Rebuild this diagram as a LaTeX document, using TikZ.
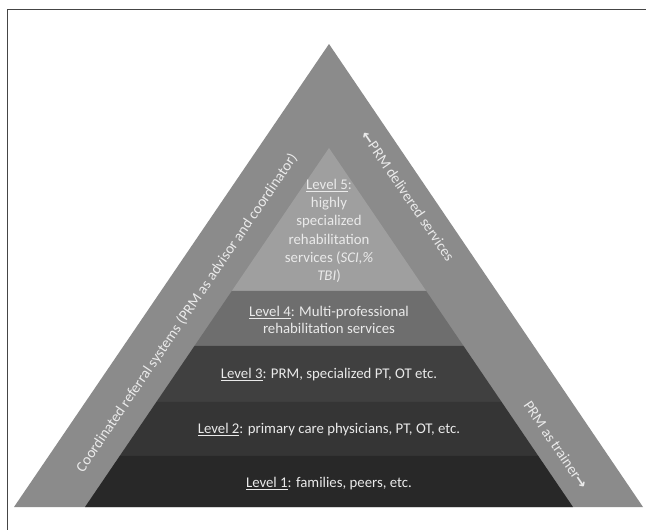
\documentclass[tikz,border=0pt]{standalone}
\usepackage{fontspec}
\setmainfont{Carlito}
\newfontfamily\symfont{DejaVu Sans}
\usetikzlibrary{calc}
\definecolor{bandc}{HTML}{8B8B8B}
\definecolor{lvfive}{HTML}{9F9F9F}
\definecolor{lvfour}{HTML}{6E6E6E}
\definecolor{lvthree}{HTML}{404040}
\definecolor{lvtwo}{HTML}{353535}
\definecolor{lvone}{HTML}{282828}
\definecolor{txtc}{HTML}{EAEAEA}
\definecolor{framec}{HTML}{454545}
\newcommand\lvlu[1]{\underline{#1}}
\begin{document}
\begin{tikzpicture}[x=1pt,y=-1pt,
  lbl/.style={text=txtc, font=\fontsize{14.8}{16}\selectfont, align=center, inner sep=0pt},
  sidelbl/.style={text=txtc, font=\fontsize{15}{16}\selectfont, inner sep=0pt}]
\useasboundingbox (0,0) rectangle (646,530);
\fill[white] (0,0) rectangle (646,530);
\draw[framec, line width=1.3pt] (7.5,530) -- (7.5,9.3) -- (646,9.3);
% outer triangle
\coordinate (A) at (329,44);
\coordinate (BL) at (14,507);
\coordinate (BR) at (643,507);
\fill[bandc] (A) -- (BL) -- (BR) -- cycle;
% inner pyramid
\coordinate (a) at (329,148);
\coordinate (bl) at (85,507);
\coordinate (br) at (573,507);
\coordinate (l54) at ($(a)!0.3983!(bl)$); \coordinate (r54) at ($(a)!0.3983!(br)$);
\coordinate (l43) at ($(a)!0.5515!(bl)$); \coordinate (r43) at ($(a)!0.5515!(br)$);
\coordinate (l32) at ($(a)!0.7075!(bl)$); \coordinate (r32) at ($(a)!0.7075!(br)$);
\coordinate (l21) at ($(a)!0.8579!(bl)$); \coordinate (r21) at ($(a)!0.8579!(br)$);
\fill[lvfive] (a) -- (l54) -- (r54) -- cycle;
\fill[lvfour] (l54) -- (l43) -- (r43) -- (r54) -- cycle;
\fill[lvthree] (l43) -- (l32) -- (r32) -- (r43) -- cycle;
\fill[lvtwo] (l32) -- (l21) -- (r21) -- (r32) -- cycle;
\fill[lvone] (l21) -- (bl) -- (br) -- (r21) -- cycle;
% level texts
\node[lbl, font=\fontsize{14.8}{18.3}\selectfont] (t5) at (329,231) {\lvlu{Level 5}:\\highly\\specialized\\rehabilitation\\services (\textit{SCI,\%}\\\textit{TBI})};
\node[lbl, font=\fontsize{14.8}{16.5}\selectfont] (t4) at (329,320) {\lvlu{Level 4}: Multi-professional\\rehabilitation services};
\node[lbl] (t3) at (329,375) {\lvlu{Level 3}: PRM, specialized PT, OT etc.};
\node[lbl] (t2) at (329,430) {\lvlu{Level 2}: primary care physicians, PT, OT, etc.};
\node[lbl] (t1) at (329,484) {\lvlu{Level 1}: families, peers, etc.};
% side texts
\node[sidelbl, rotate=55.8] (ls) at (187,313) {Coordinated referral systems (PRM as advisor and coordinator)};
\node[sidelbl, rotate=-55.8] (rs1) at (408,196) {{\symfont\bfseries ←}PRM delivered services};
\node[sidelbl, rotate=-55.8] (rs2) at (556,445) {PRM as trainer{\symfont\bfseries →}};
\end{tikzpicture}
\end{document}
